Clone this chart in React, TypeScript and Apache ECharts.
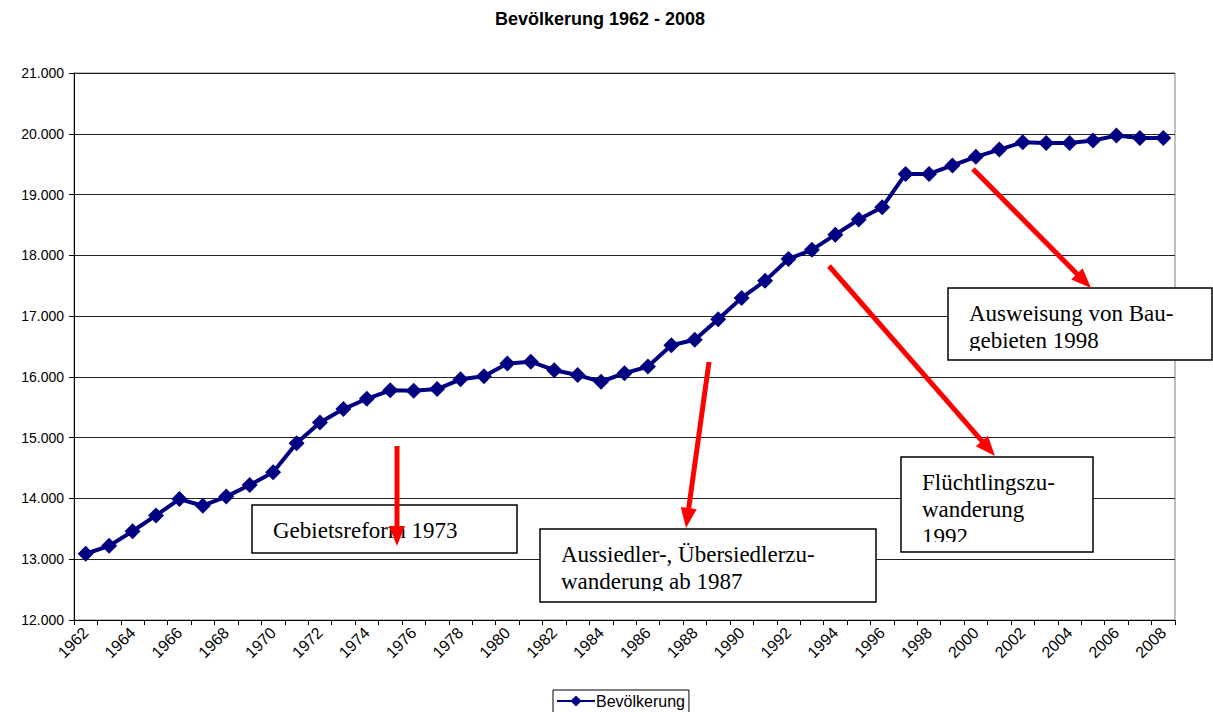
import React, { useEffect, useRef } from "react";
import * as echarts from "echarts";

const years: string[] = [
  "1962","1963","1964","1965","1966","1967","1968","1969","1970","1971",
  "1972","1973","1974","1975","1976","1977","1978","1979","1980","1981",
  "1982","1983","1984","1985","1986","1987","1988","1989","1990","1991",
  "1992","1993","1994","1995","1996","1997","1998","1999","2000","2001",
  "2002","2003","2004","2005","2006","2007","2008",
];

const population: number[] = [
  13090, 13220, 13460, 13720, 13990, 13880, 14030, 14220, 14430, 14910,
  15250, 15470, 15640, 15780, 15770, 15800, 15960, 16010, 16220, 16250,
  16110, 16030, 15920, 16060, 16170, 16520, 16610, 16950, 17300, 17580,
  17940, 18090, 18340, 18590, 18790, 19340, 19340, 19480, 19620, 19740,
  19860, 19850, 19850, 19890, 19970, 19930, 19930,
];

const yTicks = { min: 12000, max: 21000, interval: 1000 };

const seriesName = "Bevölkerung";
const chartTitle = "Bevölkerung 1962 - 2008";

const annotations = [
  { lines: ["Gebietsreform 1973"], box: [252, 505, 265, 48], clipY: 0, from: [397, 446], to: [397, 546] },
  { lines: ["Aussiedler-, Übersiedlerzu-", "wanderung ab 1987"], box: [540, 529, 336, 73], clipY: 591, from: [709, 362], to: [686, 528] },
  { lines: ["Flüchtlingszu-", "wanderung", "1992"], box: [901, 457, 192, 95], clipY: 542, from: [829, 266], to: [995, 456] },
  { lines: ["Ausweisung von Bau-", "gebieten 1998"], box: [948, 288, 264, 72], clipY: 351, from: [973, 169], to: [1091, 288] },
];

const sans = "Arial, 'Liberation Sans', sans-serif";
const serif = "'Liberation Serif', 'Times New Roman', serif";

function fmt(v: number): string {
  return String(v).replace(/\B(?=(\d{3})+(?!\d))/g, ".");
}

function arrow(from: number[], to: number[]): any[] {
  const [x1, y1] = from;
  const [x2, y2] = to;
  const dx = x2 - x1;
  const dy = y2 - y1;
  const len = Math.sqrt(dx * dx + dy * dy);
  const ux = dx / len;
  const uy = dy / len;
  const headLen = 20;
  const headHalf = 8;
  const bx = x2 - ux * headLen;
  const by = y2 - uy * headLen;
  const px = -uy;
  const py = ux;
  return [
    {
      type: "line",
      z: 104,
      shape: { x1, y1, x2: bx + ux * 2, y2: by + uy * 2 },
      style: { stroke: "#ff0000", lineWidth: 5 },
    },
    {
      type: "polygon",
      z: 104,
      shape: {
        points: [
          [x2, y2],
          [bx + px * headHalf, by + py * headHalf],
          [bx - px * headHalf, by - py * headHalf],
        ],
      },
      style: { fill: "#ff0000" },
    },
  ];
}

export default function App() {
  const ref = useRef<HTMLDivElement>(null);

  useEffect(() => {
    if (!ref.current) return;
    const chart = echarts.init(ref.current, undefined, { renderer: "svg" });

    const graphics: any[] = [];
    annotations.forEach((a) => {
      const [bx, by, bw, bh] = a.box;
      graphics.push({
        type: "rect",
        z: 100,
        shape: { x: bx, y: by, width: bw, height: bh },
        style: { fill: "#fff" },
      });
      a.lines.forEach((t, i) => {
        graphics.push({
          type: "text",
          z: 101,
          x: bx + 21,
          y: by + 25 + i * 27,
          style: {
            text: t,
            fill: "#000",
            font: `23px ${serif}`,
            verticalAlign: "middle",
            align: "left",
          },
        });
      });
      if (a.clipY) {
        graphics.push({
          type: "rect",
          z: 102,
          shape: { x: bx + 1, y: a.clipY, width: bw - 2, height: by + bh - a.clipY },
          style: { fill: "#fff" },
        });
      }
      graphics.push({
        type: "rect",
        z: 103,
        shape: { x: bx, y: by, width: bw, height: bh },
        style: { fill: "none", stroke: "#000", lineWidth: 1.5 },
      });
    });
    annotations.forEach((a) => {
      graphics.push(...arrow(a.from, a.to));
    });

    chart.setOption({
      animation: false,
      backgroundColor: "#fff",
      title: {
        text: chartTitle,
        left: 490,
        top: 5,
        textStyle: { fontSize: 18, fontWeight: "bold", fontFamily: sans, color: "#000" },
      },
      grid: {
        left: 74,
        right: 38,
        top: 73,
        bottom: 92,
        show: true,
        borderColor: "#808080",
        borderWidth: 1,
        backgroundColor: "transparent",
        containLabel: false,
      },
      legend: {
        data: [seriesName],
        left: 553,
        top: 690,
        itemWidth: 38,
        itemHeight: 14,
        itemGap: 5,
        padding: [3, 4, 12, 3],
        borderColor: "#000",
        borderWidth: 1,
        textStyle: { fontSize: 16, fontFamily: sans, color: "#000", padding: [0, 0, 0, -4] },
      },
      xAxis: {
        type: "category",
        data: years,
        boundaryGap: true,
        axisLine: { lineStyle: { color: "#000", width: 1 } },
        axisTick: { show: true, interval: 0, length: 5, inside: false, lineStyle: { color: "#000" } },
        axisLabel: {
          interval: 1,
          rotate: 45,
          fontSize: 16,
          fontFamily: sans,
          color: "#000",
          margin: 10,
        },
        splitLine: { show: false },
      },
      yAxis: {
        type: "value",
        min: yTicks.min,
        max: yTicks.max,
        interval: yTicks.interval,
        axisLine: { show: true, lineStyle: { color: "#000", width: 1 } },
        axisTick: { show: true, length: 5, inside: false, lineStyle: { color: "#000" } },
        axisLabel: {
          formatter: (v: number) => fmt(v),
          fontSize: 14,
          fontFamily: sans,
          color: "#000",
          margin: 10,
        },
        splitLine: { show: true, lineStyle: { color: "#222", width: 1 } },
      },
      series: [
        {
          name: seriesName,
          type: "line",
          data: population,
          symbol: "diamond",
          symbolSize: 16,
          showAllSymbol: true,
          color: "#000080",
          lineStyle: { color: "#000080", width: 4 },
          itemStyle: { color: "#000080" },
        },
      ],
      graphic: graphics,
    });

    return () => chart.dispose();
  }, []);

  return (
    <div
      ref={ref}
      style={{ position: "absolute", left: 0, top: 0, width: 1213, height: 712 }}
    />
  );
}
